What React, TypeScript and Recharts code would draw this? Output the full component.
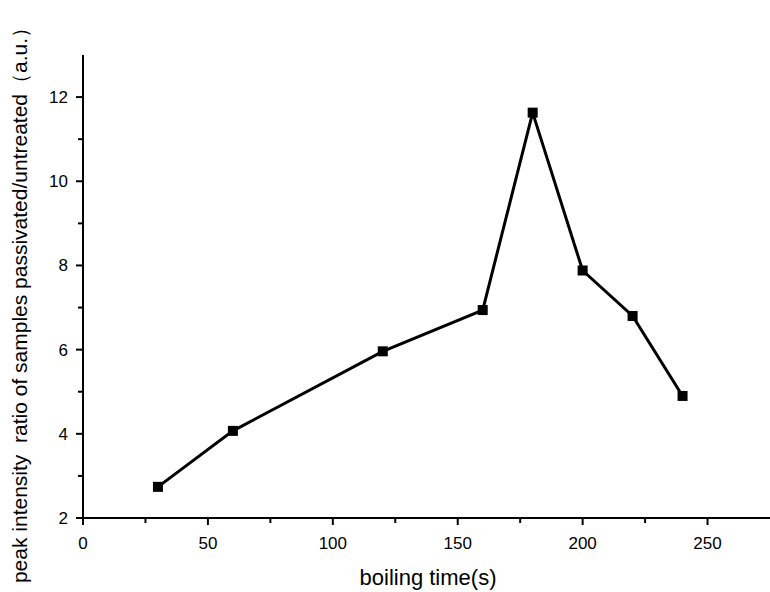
import { LineChart, Line, XAxis, YAxis, Label } from "recharts";

// boiling time (s)
const boilingTime = [30, 60, 120, 160, 180, 200, 220, 240];
// peak intensity ratio passivated/untreated (a.u.)
const intensityRatio = [2.74, 4.07, 5.96, 6.94, 11.63, 7.88, 6.8, 4.9];

const xTicks = [0, 25, 50, 75, 100, 125, 150, 175, 200, 225, 250];
const yTicks = [2, 3, 4, 5, 6, 7, 8, 9, 10, 11, 12];

const data = boilingTime.map((t, i) => ({ time: t, ratio: intensityRatio[i] }));

const font = "'Liberation Sans', Arial, sans-serif";

function XTick(props: any) {
  const { x, y, payload } = props;
  const major = payload.value % 50 === 0;
  return (
    <g>
      <line x1={x} y1={y} x2={x} y2={y + (major ? 7 : 5)} stroke="#000" strokeWidth={2} />
      {major && (
        <text x={x} y={y + 31} textAnchor="middle" fontSize={17} fontFamily={font} fill="#000">
          {payload.value}
        </text>
      )}
    </g>
  );
}

function YTick(props: any) {
  const { x, y, payload } = props;
  const major = payload.value % 2 === 0;
  return (
    <g>
      <line x1={x - (major ? 7 : 5)} y1={y} x2={x} y2={y} stroke="#000" strokeWidth={2} />
      {major && (
        <text x={x - 15} y={y} dy="0.35em" textAnchor="end" fontSize={17} fontFamily={font} fill="#000">
          {payload.value}
        </text>
      )}
    </g>
  );
}

function SquareDot(props: any) {
  const { cx, cy } = props;
  if (cx == null || cy == null) return null;
  return <rect x={cx - 5} y={cy - 5} width={10} height={10} fill="#000" />;
}

export default function App() {
  return (
    <div style={{ position: "absolute", left: 0, top: 0, background: "#fff" }}>
      <LineChart
        width={770}
        height={592}
        data={data}
        margin={{ top: 55, right: 0, bottom: 0, left: 0 }}
      >
        <XAxis
          dataKey="time"
          type="number"
          domain={[0, 275]}
          ticks={xTicks}
          tick={<XTick />}
          tickLine={false}
          tickSize={0}
          tickMargin={0}
          height={74}
          axisLine={{ stroke: "#000", strokeWidth: 2 }}
          interval={0}
        >
          <Label
            content={(p: any) => {
              const vb = p.viewBox;
              return (
                <text
                  x={428}
                  y={vb.y + 67}
                  textAnchor="middle"
                  fontSize={22}
                  fontFamily={font}
                  fill="#000"
                >
                  boiling time(s)
                </text>
              );
            }}
          />
        </XAxis>
        <YAxis
          type="number"
          domain={[2, 13]}
          ticks={yTicks}
          tick={<YTick />}
          tickLine={false}
          tickSize={0}
          tickMargin={0}
          width={83}
          axisLine={{ stroke: "#000", strokeWidth: 2 }}
          interval={0}
        >
          <Label
            content={() => {
              const cx = 19;
              const cy = 300;
              return (
                <text
                  x={cx}
                  y={cy}
                  transform={`rotate(-90 ${cx} ${cy})`}
                  textAnchor="middle"
                  dominantBaseline="central"
                  fontSize={21}
                  fontFamily={font}
                  fill="#000"
                >
                  {"peak intensity\u00a0 ratio of samples passivated/untreated（a.u.）"}
                </text>
              );
            }}
          />
        </YAxis>
        <Line
          type="linear"
          dataKey="ratio"
          stroke="#000"
          strokeWidth={3}
          dot={<SquareDot />}
          activeDot={false}
          isAnimationActive={false}
        />
      </LineChart>
    </div>
  );
}
